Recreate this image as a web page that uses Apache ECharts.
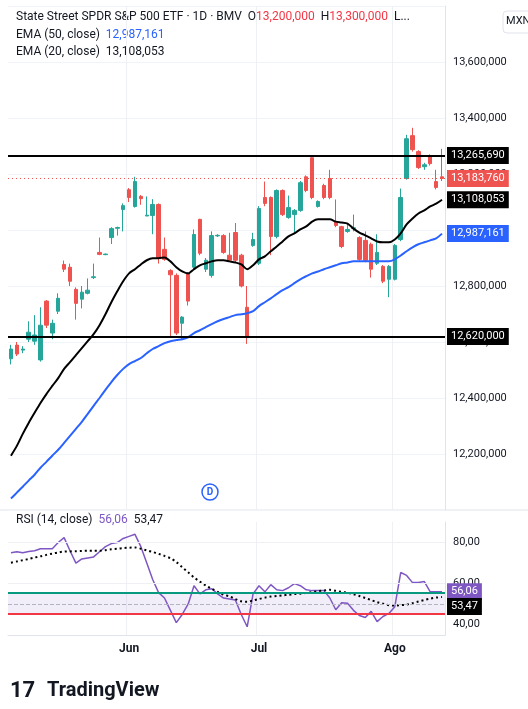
<!DOCTYPE html>
<html><head><meta charset="utf-8">
<script src="https://cdn.jsdelivr.net/npm/echarts@6/dist/echarts.min.js"></script>
<style>html,body{margin:0;padding:0;background:#fff}#c{width:528px;height:709px}</style>
</head><body><div id="c"></div>
<script>
// prices in thousands of MXN: [open, close, low, high]
const ohlc = [
[12540,12575,12520,12590],[12589,12557,12550,12600],[12571,12575,12560,12585],[12610,12635,12600,12674],
[12603,12625,12590,12696],[12536,12660,12530,12724],[12746,12660,12650,12750],[12632,12667,12610,12680],
[12710,12756,12700,12774],[12877,12860,12850,12891],[12867,12817,12800,12880],[12788,12738,12680,12795],
[12753,12778,12720,12800],[12774,12785,12770,12827],[12830,12833,12825,12880],[12920,12913,12910,12973],
[12912,12914,12910,12916],[12973,13005,12950,13010],[13006,13009,12980,13012],[13073,13087,12995,13095],
[13144,13116,13100,13150],[13084,13173,13080,13190],[13120,13112,13090,13125],[13050,13053,13050,13120],
[13052,13091,12985,13110],[13091,12899,12880,13095],[12931,12895,12890,12973],[12855,12840,12621,12860],
[12838,12632,12625,12845],[12667,12689,12610,12692],[12845,12746,12730,12850],[12867,12984,12860,13002],
[13038,12917,12910,13040],[12860,12892,12850,12900],[12838,12980,12830,12995],[12979,12981,12975,12985],
[12980,12920,12915,12985],[12910,12892,12890,12990],[12991,12892,12885,13025],[12910,12800,12795,12915],
[12724,12617,12593,12800],[12945,12966,12940,12990],[12881,13077,12875,13085],[13116,13095,13085,13173],
[13116,12977,12910,13120],[12977,13141,12970,13145],[13141,13055,13050,13145],[13045,13080,13040,13123],
[13055,13070,12990,13075],[13070,13169,13065,13175],[13190,13141,13135,13195],[13258,13116,13110,13260],
[13084,13102,13080,13106],[13159,13116,13110,13165],[13184,13116,13110,13215],[13030,13016,13010,13109],
[13012,12941,12935,13015],[12995,13002,12990,13023],[13005,13008,12995,13055],[12973,12895,12890,12978],
[12963,12892,12885,12995],[12949,12860,12830,12955],[12881,12920,12875,12985],[12870,12817,12810,12875],
[12824,12870,12760,12875],[12824,12945,12820,12950],[12966,13116,12960,13148],[13184,13326,13180,13340],
[13337,13287,13280,13365],[13280,13223,13218,13285],[13226,13233,13215,13240],[13265,13237,13230,13270],
[13173,13152,13145,13215],[13190,13184,13175,13290]
];
const ema20 = [12194,12229,12272,12311,12347,12382,12414,12443,12471,12504,12528,12553,12578,12603,12628,12660,
12699,12742,12781,12817,12845,12860,12877,12892,12899,12899,12902,12888,12867,12852,12845,12860,12874,12881,
12888,12892,12892,12888,12884,12877,12860,12874,12895,12906,12924,12941,12959,12977,12988,13002,13013,13030,
13038,13038,13038,13030,13027,13023,13005,12991,12981,12970,12959,12956,12956,12966,12988,13020,13041,13059,
13070,13084,13094,13108];
const ema50 = [12041,12062,12083,12105,12126,12151,12172,12194,12215,12240,12265,12290,12315,12343,12372,12400,
12429,12457,12482,12504,12521,12532,12543,12560,12575,12585,12596,12603,12607,12610,12617,12632,12642,12653,
12664,12674,12682,12689,12696,12699,12703,12710,12728,12742,12756,12771,12785,12796,12810,12824,12835,12845,
12852,12860,12867,12874,12881,12884,12888,12888,12888,12888,12888,12888,12888,12895,12909,12924,12938,12949,
12956,12963,12970,12987];
const rsi = [75,75.5,75,75.6,76,77,77,77,80,82.4,76,70,72,72.5,73,75.5,78,79.5,80,82,83,84,78,70,62,55.6,53,47,41,45,
50,59,55,57,57.5,55,53,52.5,52,45,39,55,59,56,59.5,57,56.6,58,60,59,57,56.6,56.6,56.6,53,47.3,50.7,50.5,47,44.5,
43.5,46.5,41.5,44,45.5,48.8,65.4,64,60.5,60.5,61,56,56,56.06];
const rsiMa = [70.2,70.8,71.4,72,72.7,73.3,74,74.6,75.2,75.6,75.7,75.8,75.9,76,76,76,76.3,76.7,77,77.3,77.5,77.6,77,
76.2,75.4,74.5,73.5,72.4,70.5,68,65.5,63,61,59,57.5,56,54.6,53.8,52.5,51.4,51.2,51.8,52.5,53.2,53.7,54,54.3,54.6,
54.9,55.1,55.5,55.9,56.3,56.7,57,56.5,56,55.5,54.8,54,53,52,51,50.2,49.5,49.3,49.5,49.8,50.5,51.3,52,52.7,53.2,53.47];
const monthLabels = {20:'Jun', 42:'Jul', 65:'Ago'};
const hLines = [13265.690, 12620.000];
const lastClose = 13183.760;
const emaLast = {ema20:13108.053, ema50:12987.161};
const rsiLast = {rsi:56.06, ma:53.47};
const rsiLevels = {upper:55.6, mid:49.8, lower:45.4};
const priceTicks = {min:12000, max:13800, step:200};

const cats = ohlc.map((d,i)=>'d'+i);
const fmtP = v => (Math.round(v*1000)).toLocaleString('en-US');
const fmtC = v => v.toFixed(2).replace('.',',');
const tag = (bg,text)=>({show:true,position:'end',distance:2,backgroundColor:bg,color:'#fff',padding:[3,4],fontSize:11,fontFamily:'Roboto',formatter:()=>text});
const hidden = {color:'rgba(0,0,0,0)',width:0};
const chart = echarts.init(document.getElementById('c'));
const isMonth = i => monthLabels[i]!==undefined;
chart.setOption({
  animation:false,
  textStyle:{fontFamily:'Roboto'},
  grid:[{left:8,right:83,top:6,bottom:199},{left:8,right:83,top:522,bottom:74}],
  xAxis:[
    {type:'category',data:cats,gridIndex:0,boundaryGap:true,axisLine:{show:false},axisTick:{show:false},axisLabel:{show:false},
     splitLine:{show:true,interval:(i)=>isMonth(i),lineStyle:{color:'#eef0f4'}}},
    {type:'category',data:cats,gridIndex:1,boundaryGap:true,axisLine:{lineStyle:{color:'#e0e3eb'}},axisTick:{show:false},
     axisLabel:{interval:(i)=>isMonth(i),formatter:(v,i)=>monthLabels[i]||'',color:'#131722',fontSize:12,fontWeight:'bold',margin:8},
     splitLine:{show:true,interval:(i)=>isMonth(i),lineStyle:{color:'#eef0f4'}}}
  ],
  yAxis:[
    {type:'value',gridIndex:0,position:'right',min:priceTicks.min,max:priceTicks.max,interval:priceTicks.step,
     axisLine:{show:true,lineStyle:{color:'#e0e3eb'}},axisTick:{show:false},
     axisLabel:{showMinLabel:false,showMaxLabel:false,formatter:fmtP,color:'#131722',fontSize:11,margin:8},
     splitLine:{lineStyle:{color:'#f0f3fa'}}},
    {type:'value',gridIndex:1,position:'right',min:35,max:90,
     axisLine:{show:true,lineStyle:{color:'#e0e3eb'}},axisTick:{show:false},
     axisLabel:{customValues:[40,60,80],formatter:fmtC,color:'#131722',fontSize:11,margin:8},
     splitLine:{show:false}}
  ],
  series:[
    {type:'candlestick',data:ohlc,xAxisIndex:0,yAxisIndex:0,barWidth:4,
     itemStyle:{color:'#26a69a',color0:'#ef5350',borderColor:'#26a69a',borderColor0:'#ef5350'},
     markLine:{symbol:'none',silent:true,data:[
       {yAxis:hLines[0],lineStyle:{color:'#000',width:2,type:'solid'},label:tag('#000',fmtP(hLines[0]))},
       {yAxis:hLines[1],lineStyle:{color:'#000',width:2,type:'solid'},label:tag('#000',fmtP(hLines[1]))},
       {yAxis:lastClose,lineStyle:{color:'#ef5350',width:1,type:[1,3]},label:tag('#ef5350',fmtP(lastClose))},
       {yAxis:emaLast.ema20,lineStyle:hidden,label:tag('#000',fmtP(emaLast.ema20))},
       {yAxis:emaLast.ema50,lineStyle:hidden,label:tag('#2962ff',fmtP(emaLast.ema50))}
     ]}},
    {type:'line',data:ema20,xAxisIndex:0,yAxisIndex:0,symbol:'none',smooth:0.3,lineStyle:{color:'#000',width:2}},
    {type:'line',data:ema50,xAxisIndex:0,yAxisIndex:0,symbol:'none',smooth:0.3,lineStyle:{color:'#2962ff',width:2}},
    {type:'line',data:rsi,xAxisIndex:1,yAxisIndex:1,symbol:'none',lineStyle:{color:'#7e57c2',width:1.5},
     markArea:{silent:true,itemStyle:{color:'rgba(126,87,194,0.1)'},data:[[{yAxis:rsiLevels.lower},{yAxis:rsiLevels.upper}]]},
     markLine:{symbol:'none',silent:true,data:[
       {yAxis:80,lineStyle:{color:'#eef0f4',width:1,type:'solid'},label:{show:false}},
       {yAxis:60,lineStyle:{color:'#eef0f4',width:1,type:'solid'},label:{show:false}},
       {yAxis:rsiLevels.upper,lineStyle:{color:'#089981',width:2,type:'solid'},label:{show:false}},
       {yAxis:rsiLevels.mid,lineStyle:{color:'#b2b5be',width:1,type:'dashed'},label:{show:false}},
       {yAxis:rsiLevels.lower,lineStyle:{color:'#f23645',width:2,type:'solid'},label:{show:false}}
     ]}},
    {type:'line',data:rsiMa,xAxisIndex:1,yAxisIndex:1,symbol:'none',smooth:0.3,lineStyle:{color:'#000',width:2,type:[2,3]},
     markLine:{symbol:'none',silent:true,data:[
       {yAxis:rsiLast.rsi,lineStyle:hidden,label:tag('#7e57c2',fmtC(rsiLast.rsi))},
       {yAxis:rsiLast.rsi-7.2,lineStyle:hidden,label:tag('#000',fmtC(rsiLast.ma))}
     ]}}
  ],
  graphic:[
    {type:'line',shape:{x1:0,y1:510,x2:528,y2:510},style:{stroke:'#e0e3eb',lineWidth:1}},
    {type:'rect',shape:{x:503,y:11,width:32,height:22,r:4},style:{fill:'#fff',stroke:'#e0e3eb'}},
    {type:'text',left:506,top:16,style:{text:'MXN',fontSize:11,fill:'#131722',fontFamily:'Roboto'}},
    {type:'text',left:16,top:11,style:{rich:{a:{fontSize:12,fill:'#131722',fontFamily:'Roboto'},r:{fontSize:12,fill:'#f23645',fontFamily:'Roboto'}},
      text:'{a|State Street SPDR S&P 500 ETF · 1D · BMV  O}{r|13,200,000}{a|  H}{r|13,300,000}{a|  L...}'}},
    {type:'text',left:16,top:29,style:{rich:{a:{fontSize:12,fill:'#131722',fontFamily:'Roboto'},b:{fontSize:12,fill:'#2962ff',fontFamily:'Roboto'}},text:'{a|EMA (50, close)  }{b|12,987,161}'}},
    {type:'text',left:16,top:46,style:{rich:{a:{fontSize:12,fill:'#131722',fontFamily:'Roboto'}},text:'{a|EMA (20, close)  13,108,053}'}},
    {type:'text',left:16,top:514,style:{rich:{a:{fontSize:12,fill:'#131722',fontFamily:'Roboto'},p:{fontSize:12,fill:'#7e57c2',fontFamily:'Roboto'}},text:'{a|RSI (14, close)  }{p|56,06}{a|  53,47}'}},
    {type:'circle',shape:{cx:210,cy:492,r:8},style:{fill:'#fff',stroke:'#2962ff',lineWidth:1.5}},
    {type:'text',x:210,y:492,style:{text:'D',fontSize:10,fill:'#2962ff',align:'center',verticalAlign:'middle',fontWeight:'bold',fontFamily:'Roboto'}},
    {type:'text',left:10,top:680,style:{text:'17',fontSize:22,fontWeight:'bold',fill:'#131722',fontFamily:'Roboto'}},
    {type:'text',left:47,top:681,style:{text:'TradingView',fontSize:20,fontWeight:'bold',fill:'#131722',fontFamily:'Roboto'}}
  ]
});
</script></body></html>
